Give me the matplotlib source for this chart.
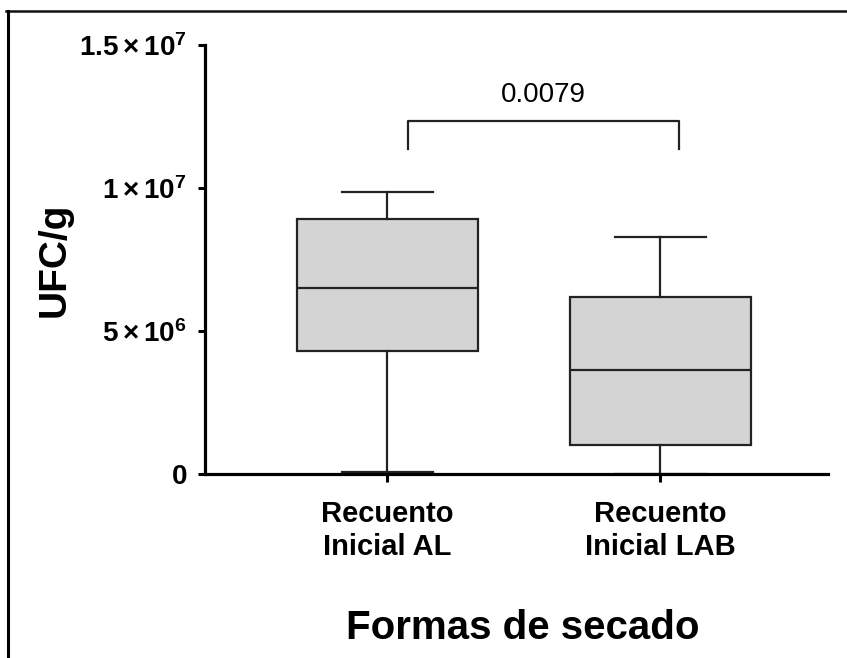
import matplotlib.pyplot as plt
from matplotlib.lines import Line2D

plt.rcParams['font.family'] = ['Liberation Sans', 'DejaVu Sans']
plt.rcParams['mathtext.fontset'] = 'custom'
plt.rcParams['mathtext.rm'] = 'Liberation Sans:bold'
plt.rcParams['mathtext.bf'] = 'Liberation Sans:bold'
plt.rcParams['mathtext.it'] = 'Liberation Sans:bold'

# box plot summary (UFC/g)
groups = ['Recuento\nInicial AL', 'Recuento\nInicial LAB']
whisker_low = [0.07e6, 0.0]
q1 = [4.30e6, 1.01e6]
median = [6.50e6, 3.64e6]
q3 = [8.92e6, 6.19e6]
whisker_high = [9.86e6, 8.29e6]
p_value = '0.0079'

yticks = [0, 5e6, 1e7, 1.5e7]
ytick_labels = ['0', r'$5\times10^{6}$', r'$1\times10^{7}$', r'$1.5\times10^{7}$']

stats = []
for i in range(len(groups)):
    stats.append({'whislo': whisker_low[i], 'q1': q1[i], 'med': median[i],
                  'q3': q3[i], 'whishi': whisker_high[i], 'fliers': [],
                  'label': groups[i]})

fig = plt.figure(figsize=(8.47, 6.58), dpi=100)
ax = fig.add_axes([205 / 847, 1 - 474 / 658, 623 / 847, 429 / 658])

lc = '#222222'
ax.bxp(stats, positions=[1, 2], widths=0.663, capwidths=0.333, patch_artist=True,
       showfliers=False,
       boxprops=dict(facecolor='#d4d4d4', edgecolor=lc, linewidth=1.6),
       medianprops=dict(color=lc, linewidth=1.6),
       whiskerprops=dict(color=lc, linewidth=1.6),
       capprops=dict(color=lc, linewidth=1.6))

ax.set_xlim(0.333, 2.615)
ax.set_ylim(0, 1.5e7)
ax.set_yticks(yticks)
ax.set_yticklabels(ytick_labels)

for s in ['top', 'right']:
    ax.spines[s].set_visible(False)
for s in ['left', 'bottom']:
    ax.spines[s].set_linewidth(2.3)
    ax.spines[s].set_color('black')
    ax.spines[s].set_zorder(5)

ax.tick_params(axis='y', length=5, width=2.2, pad=8, labelsize=20)
ax.tick_params(axis='x', length=6, width=2.2, pad=13, labelsize=21)
for lab in ax.get_xticklabels() + ax.get_yticklabels():
    lab.set_fontweight('bold')

ax.set_ylabel('UFC/g', fontsize=28, fontweight='bold', fontstyle='normal')
ax.yaxis.set_label_coords(-0.212, 0.5)
ax.set_xlabel('Formas de secado', fontsize=29, fontweight='bold', fontstyle='normal')
ax.xaxis.set_label_coords(0.51, -0.315)

# significance bracket
bx = [1.077, 1.077, 2.07, 2.07]
by = [1.136e7, 1.234e7, 1.234e7, 1.136e7]
ax.plot(bx, by, color=lc, linewidth=1.6, clip_on=False)
ax.text((bx[0] + bx[-1]) / 2, 1.28e7, p_value, ha='center', va='bottom', fontsize=20)

# outer frame (top and left only)
fig.add_artist(Line2D([6 / 847, 1], [1 - 11 / 658, 1 - 11 / 658], color='#111111', linewidth=1.8))
fig.add_artist(Line2D([8 / 847, 8 / 847], [1 - 11 / 658, 0], color='black', linewidth=2.2))

fig.savefig('out.png', dpi=100)
